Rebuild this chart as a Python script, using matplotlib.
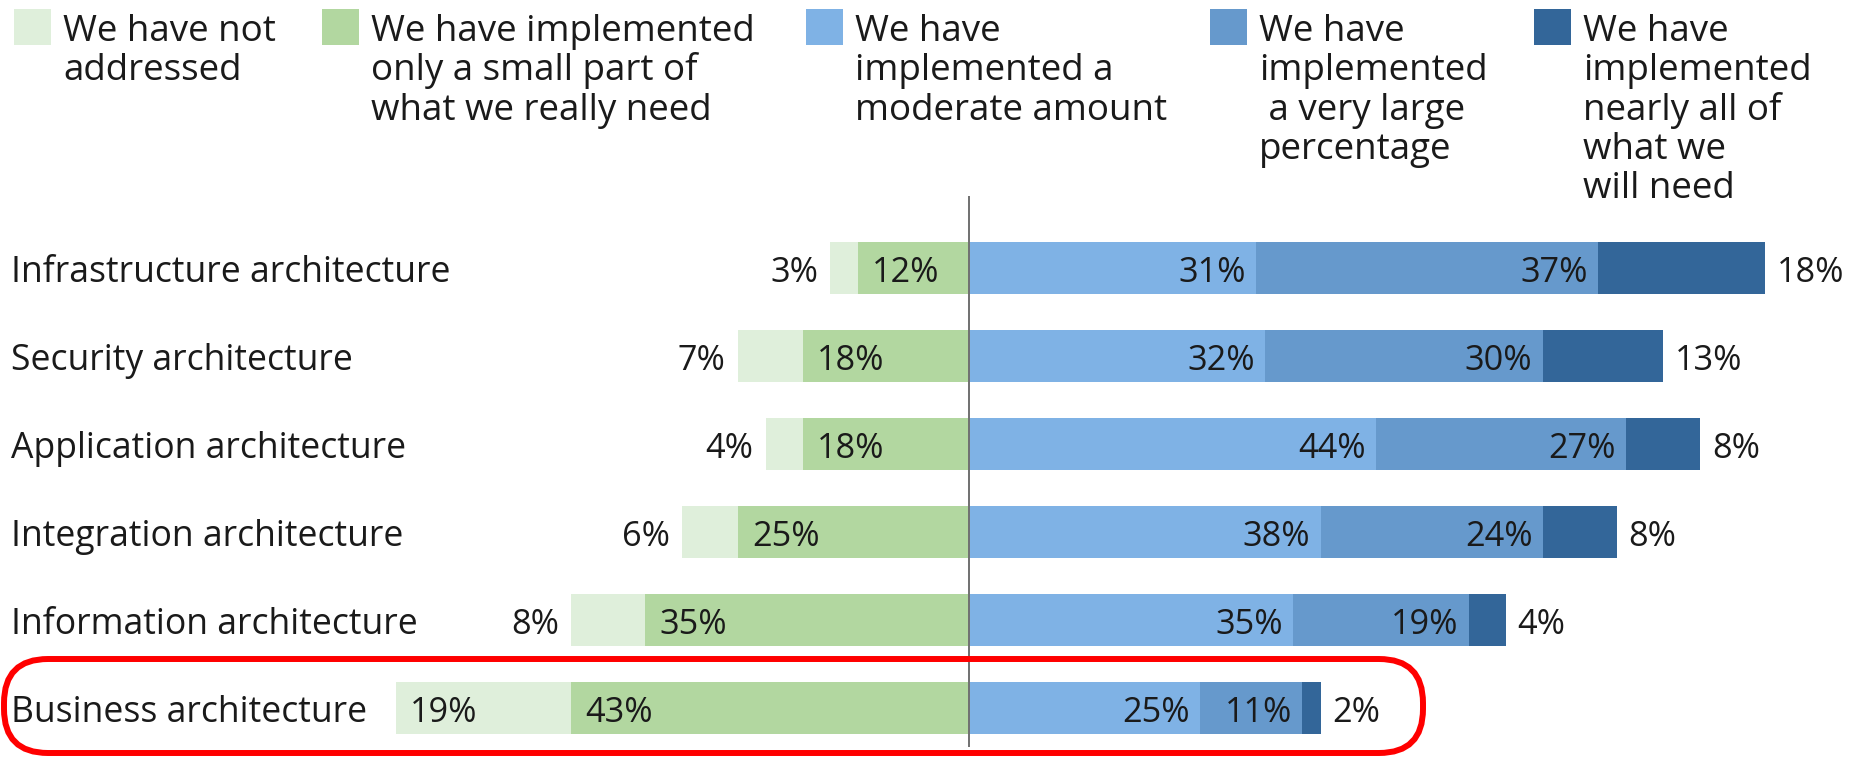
import matplotlib
matplotlib.use("Agg")
import matplotlib.pyplot as plt
import matplotlib.font_manager as fm
from matplotlib.patches import FancyBboxPatch, Rectangle
from matplotlib.transforms import IdentityTransform

# ---------------- data ----------------
categories = ["Infrastructure architecture", "Security architecture",
              "Application architecture", "Integration architecture",
              "Information architecture", "Business architecture"]
not_addressed = [3, 7, 4, 6, 8, 19]
small_part = [12, 18, 18, 25, 35, 43]
moderate = [31, 32, 44, 38, 35, 25]
very_large = [37, 30, 27, 24, 19, 11]
nearly_all = [18, 13, 8, 8, 4, 2]

legend_labels = ["We have not\naddressed",
                 "We have implemented\nonly a small part of\nwhat we really need",
                 "We have\nimplemented a\nmoderate amount",
                 "We have\nimplemented\n a very large\npercentage",
                 "We have\nimplemented\nnearly all of\nwhat we\nwill need"]
colors = ["#dfefdb", "#b2d7a0", "#7fb2e5", "#6699cc", "#336699"]
TXT = "#1a1a1a"

# ---------------- font ----------------
names = {f.name for f in fm.fontManager.ttflist}
FONT = "Liberation Sans Narrow" if "Liberation Sans Narrow" in names else "Open Sans"
plt.rcParams["font.family"] = [FONT, "DejaVu Sans"]

W, H, DPI = 1860, 757, 100
fig = plt.figure(figsize=(W / DPI, H / DPI), dpi=DPI)
renderer = fig.canvas.get_renderer()


def fit_size(text, target_px, base=20.0):
    t = fig.text(0, 0, text, fontsize=base)
    w = t.get_window_extent(renderer).width
    t.remove()
    return base * target_px / w


FS_CAT = fit_size("Infrastructure architecture", 431) * 1.02
FS_LEG = fit_size("We have implemented", 373) * 1.03
FS_VAL = fit_size("12%", 66) * 1.02

# ---------------- axes / scales ----------------
PX_PER_PCT = 9.25
CENTER_PX = 969
ROW0_PX = 268
ROW_PX = 88
ax = fig.add_axes([0, 0, 1, 1])
ax.set_xlim(-CENTER_PX / PX_PER_PCT, (W - CENTER_PX) / PX_PER_PCT)
ax.set_ylim((H - ROW0_PX) / ROW_PX, -ROW0_PX / ROW_PX)
ax.axis("off")

BAR_H = 0.58
GAP = 12 / PX_PER_PCT       # outside-label gap in % units
PAD_IN = 14 / PX_PER_PCT    # inside-label padding
PAD_R = 10 / PX_PER_PCT
BASE_OFF = 14 / ROW_PX      # baseline below row centre

ys = list(range(len(categories)))
for i, y in enumerate(ys):
    na, sp = not_addressed[i], small_part[i]
    mo, vl, nl = moderate[i], very_large[i], nearly_all[i]
    # negative side
    ax.barh(y, -sp, left=0, height=BAR_H, color=colors[1], lw=0)
    ax.barh(y, -na, left=-sp, height=BAR_H, color=colors[0], lw=0)
    # positive side
    ax.barh(y, mo, left=0, height=BAR_H, color=colors[2], lw=0)
    ax.barh(y, vl, left=mo, height=BAR_H, color=colors[3], lw=0)
    ax.barh(y, nl, left=mo + vl, height=BAR_H, color=colors[4], lw=0)

    yb = y + BASE_OFF
    # category label
    ax.text(-CENTER_PX / PX_PER_PCT + 11 / PX_PER_PCT, yb, categories[i],
            fontsize=FS_CAT, color=TXT, ha="left", va="baseline")
    # not addressed
    if na >= 10:
        ax.text(-sp - na + PAD_IN, yb, f"{na}%", fontsize=FS_VAL, color=TXT,
                ha="left", va="baseline")
    else:
        ax.text(-sp - na - GAP, yb, f"{na}%", fontsize=FS_VAL, color=TXT,
                ha="right", va="baseline")
    # small part
    ax.text(-sp + PAD_IN, yb, f"{sp}%", fontsize=FS_VAL, color=TXT,
            ha="left", va="baseline")
    # moderate
    ax.text(mo - PAD_R, yb, f"{mo}%", fontsize=FS_VAL, color=TXT,
            ha="right", va="baseline")
    # very large
    ax.text(mo + vl - PAD_R, yb, f"{vl}%", fontsize=FS_VAL, color=TXT,
            ha="right", va="baseline")
    # nearly all
    ax.text(mo + vl + nl + GAP, yb, f"{nl}%", fontsize=FS_VAL, color=TXT,
            ha="left", va="baseline")

# centre line
ax.plot([0, 0], [ys[0] - 0.82, ys[-1] + 0.44], color="#707070", lw=1.4,
        solid_capstyle="butt", zorder=3)

# ---------------- legend ----------------
leg_text_x = [63, 371, 855, 1259, 1583]
SQ = 37
FIRST_BASE = 41
LINE_STEP = 39.3
idt = IdentityTransform()
for lab, col, tx in zip(legend_labels, colors, leg_text_x):
    fig.patches.append(Rectangle((tx - 49, H - 8 - SQ), SQ, SQ - 1,
                                 transform=idt, facecolor=col, lw=0,
                                 figure=fig))
    for k, line in enumerate(lab.split("\n")):
        fig.text(tx / W, 1 - (FIRST_BASE + k * LINE_STEP) / H, line,
                 fontsize=FS_LEG, color=TXT, ha="left", va="baseline")

# ---------------- highlight box ----------------
box = FancyBboxPatch((4, H - 753), 1419, 94,
                     boxstyle="round,pad=0,rounding_size=44",
                     transform=idt, facecolor="none", edgecolor="#ff0000",
                     lw=4.3, figure=fig, zorder=10)
fig.patches.append(box)

fig.savefig("out.png", dpi=DPI)
